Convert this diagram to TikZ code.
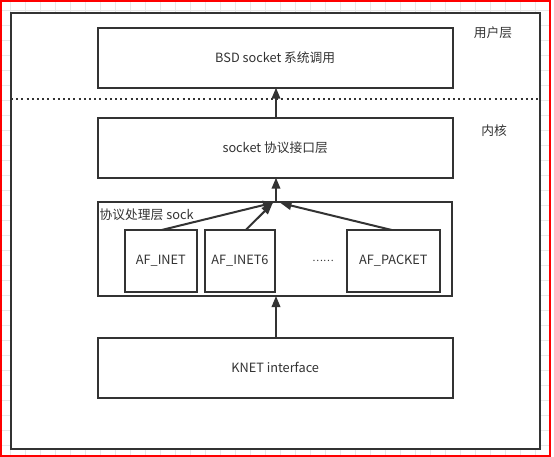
\documentclass[tikz,border=0pt]{standalone}
\usepackage{fontspec}
\newfontfamily\cjk{Noto Sans CJK SC}
\usetikzlibrary{arrows.meta}
\definecolor{linec}{HTML}{333333}
\definecolor{gridc}{HTML}{E8E8E8}
\definecolor{redc}{HTML}{FF0000}
\tikzset{
  box/.style={draw=linec, line width=2pt, fill=white, inner sep=0pt, text=linec,
    font=\cjk\fontsize{12.75}{15}\selectfont},
  lbl/.style={inner sep=0pt, text=linec, font=\cjk\fontsize{12.75}{15}\selectfont},
  arr/.style={draw=linec, line width=2pt, -{Triangle[length=11pt,width=8.5pt]}},
}
\begin{document}
\begin{tikzpicture}[x=1pt,y=-1pt]
\useasboundingbox (0,0) rectangle (554,457);
% grid
\foreach \gx in {10,25,...,550} \draw[gridc, line width=0.8pt] (\gx,0) -- (\gx,455);
\foreach \gy in {10,25,...,455} \draw[gridc, line width=0.8pt] (0,\gy) -- (551,\gy);
% red border
\draw[redc, line width=2.5pt] (1,0.75) rectangle (550,456);
% frame
\node[box, minimum width=529pt, minimum height=436.6pt] (frame) at (275.5,231) {};
% layer labels
\node[lbl] (user) at (493,33) {用户层};
\node[lbl] (kern) at (494,130.5) {内核};
% dotted separator
\coordinate (sepL) at (11,99.3);
\coordinate (sepR) at (540,99.3);
\draw[linec, line width=2pt, dash pattern=on 2pt off 3.2pt] (sepL) -- (sepR);
% boxes
\node[box, minimum width=355pt, minimum height=60pt] (bsd) at (275.2,57.7) {BSD socket 系统调用};
\node[box, minimum width=355pt, minimum height=60pt] (iface) at (275.2,147.7) {socket 协议接口层};
\node[box, minimum width=354.3pt, minimum height=94.3pt] (proto) at (274.85,248.85) {};
\node[lbl, anchor=west] (protol) at (99.5,215) {协议处理层 sock};
\node[box, minimum width=71.7pt, minimum height=61.7pt] (inet) at (160.85,260.85) {AF\_INET};
\node[box, minimum width=70pt, minimum height=61.7pt] (inet6) at (240,260.85) {AF\_INET6};
\node[box, minimum width=93.3pt, minimum height=61.7pt] (packet) at (393.35,260.85) {AF\_PACKET};
\node[lbl, font=\cjk\fontsize{10}{12}\selectfont] (dots) at (323,261) {……};
\node[box, minimum width=355pt, minimum height=60pt] (knet) at (275.2,367.7) {KNET interface};
% connectors
\coordinate (k1) at (276,337.7);
\coordinate (p1) at (276,296);
\coordinate (p2) at (276,201.7);
\coordinate (i1) at (276,177.7);
\coordinate (i2) at (276,117.7);
\coordinate (b1) at (276,87.7);
\draw[arr] (k1) -- (p1);
\draw[arr] (p2) -- (i1);
\draw[arr] (i2) -- (b1);
\coordinate (s1) at (161.7,230);
\coordinate (s2) at (245.7,230);
\coordinate (s3) at (391.7,230);
\coordinate (t1) at (274,202.5);
\coordinate (t2) at (272.5,203.5);
\coordinate (t3) at (280.5,203);
\draw[arr] (s1) -- (t1);
\draw[arr] (s2) -- (t2);
\draw[arr] (s3) -- (t3);
\end{tikzpicture}
\end{document}
